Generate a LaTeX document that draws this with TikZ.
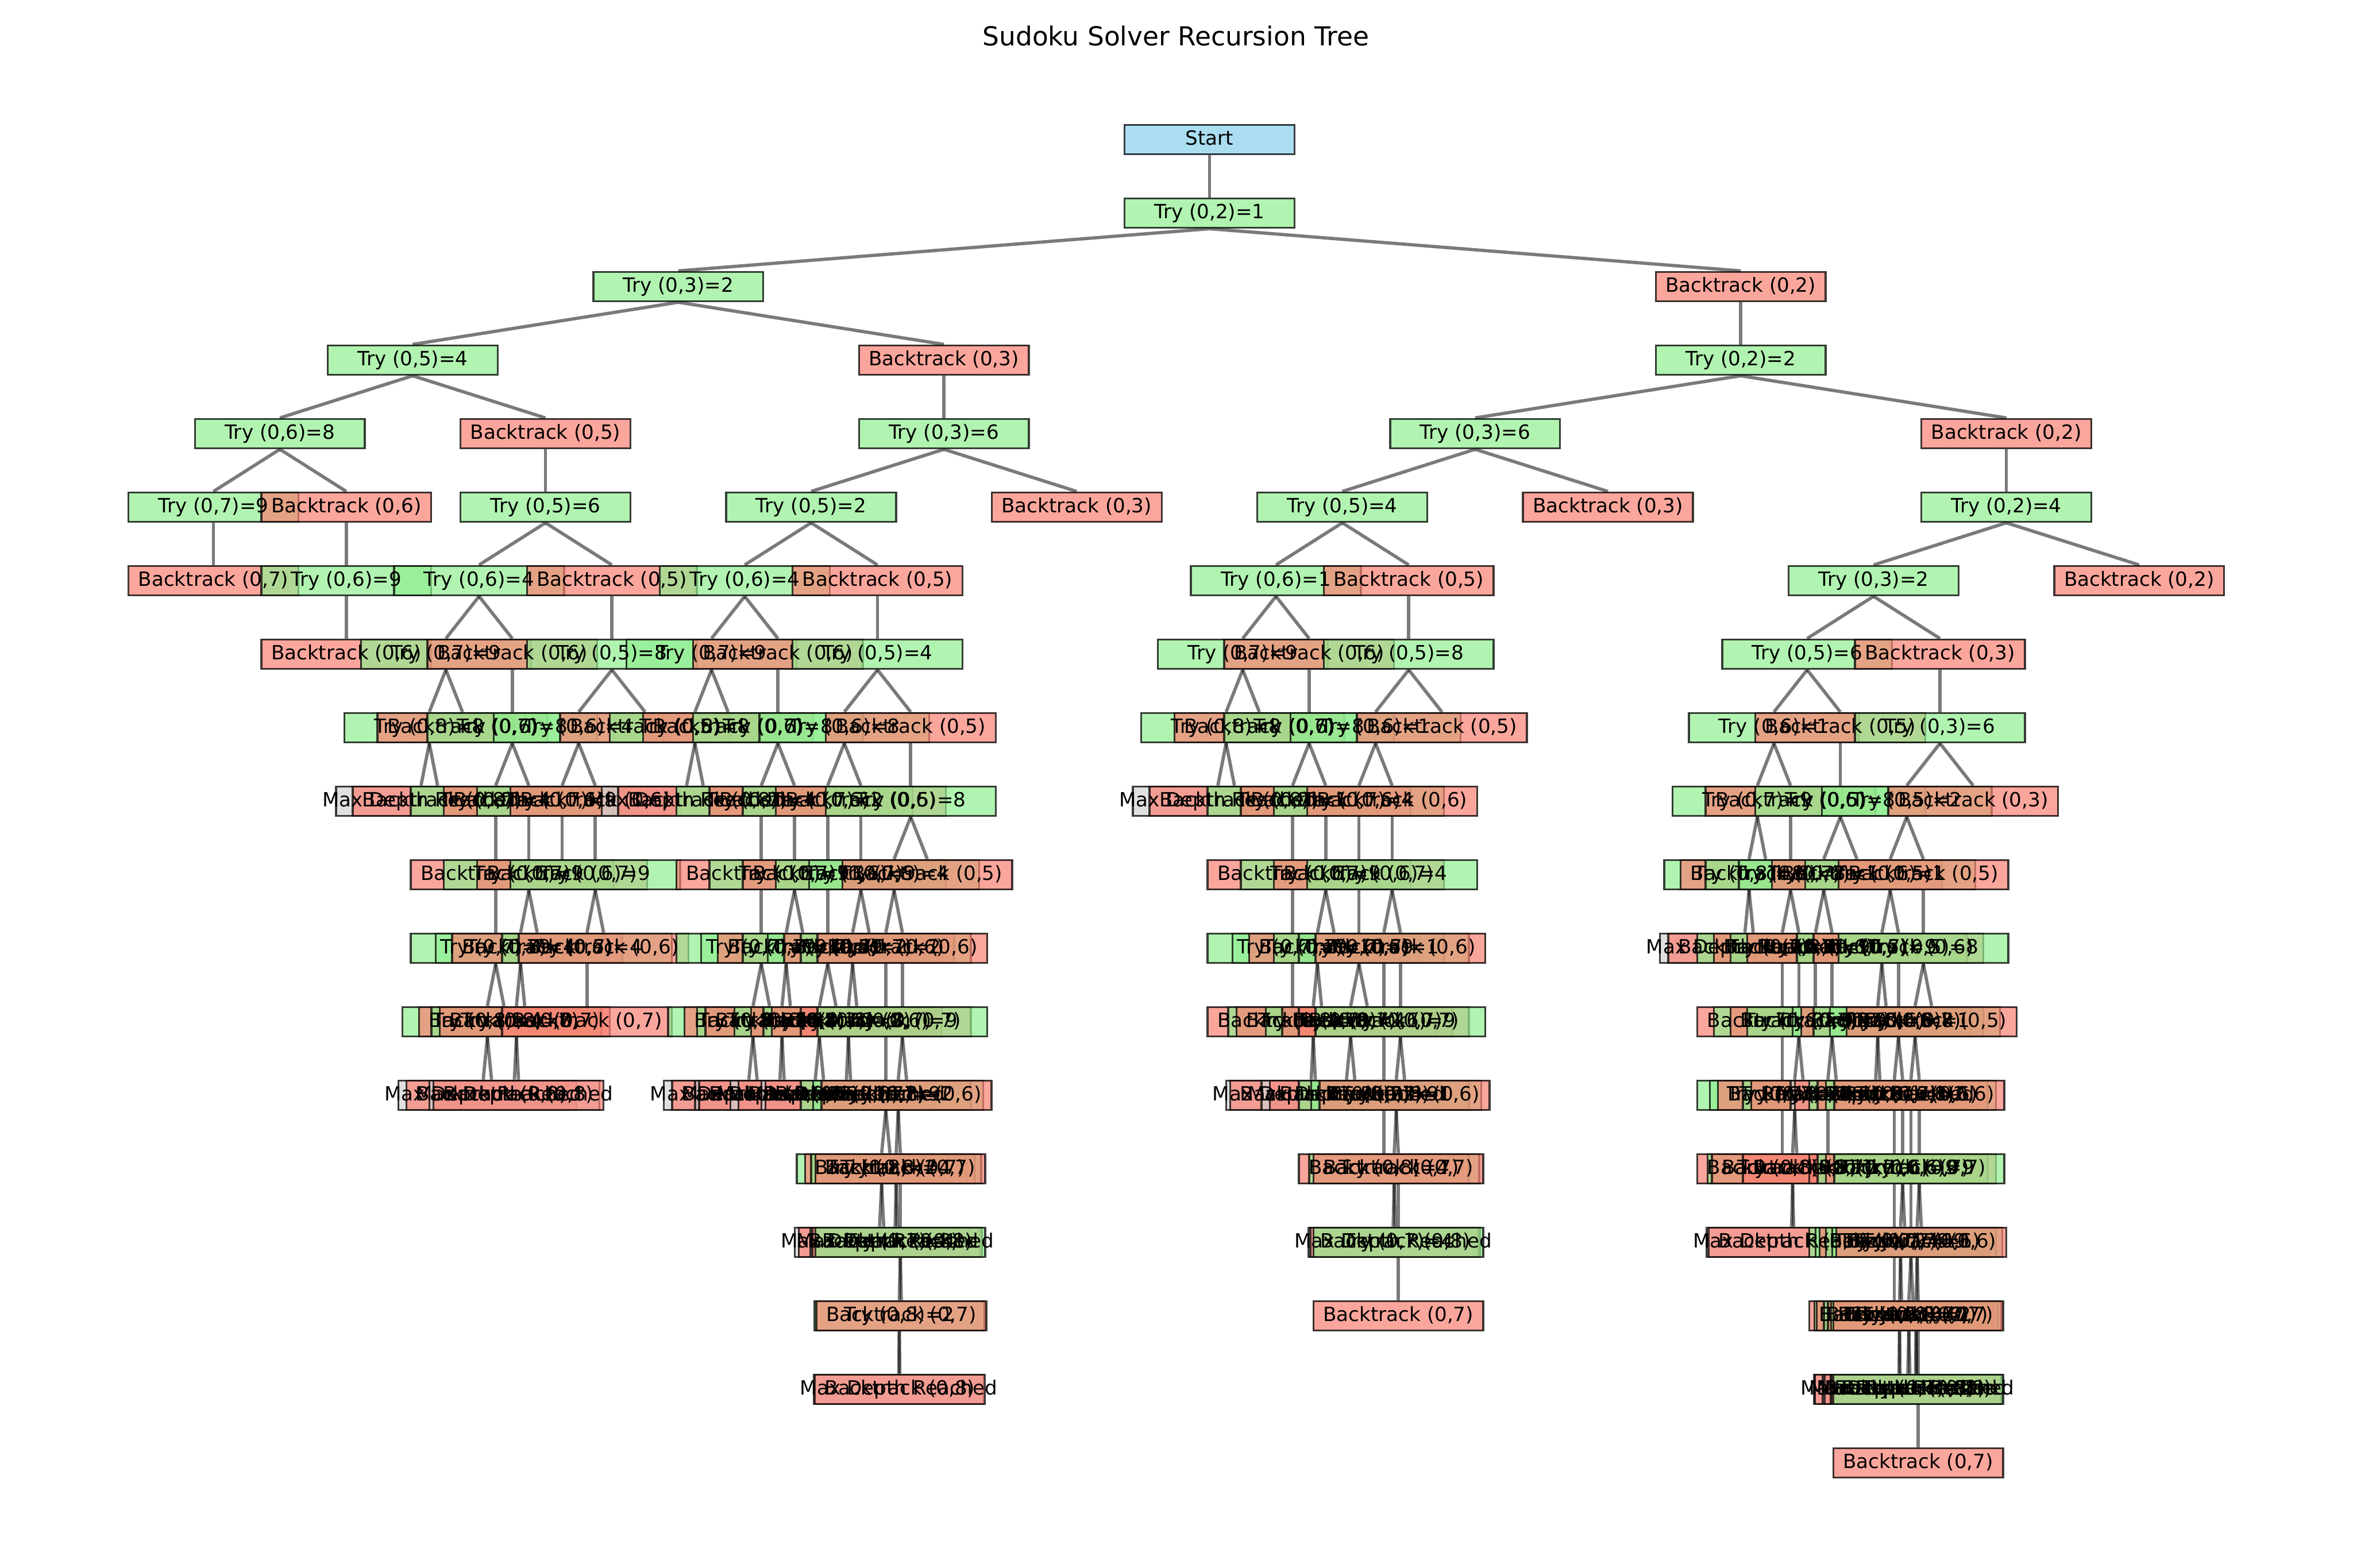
\documentclass[tikz,border=0pt]{standalone}
\usepackage{fontspec}
\setmainfont{DejaVu Sans}
\usetikzlibrary{calc}
\pgfdeclarelayer{bg}
\pgfsetlayers{bg,main}
\definecolor{lgreen}{RGB}{144,238,144}
\definecolor{salmon}{RGB}{250,128,114}
\definecolor{skyblue}{RGB}{135,206,235}
\definecolor{lgray}{RGB}{211,211,211}
\tikzset{
  box/.style={rectangle, inner sep=0pt, minimum width=78pt, minimum height=13.5pt,
    draw=black, draw opacity=0.75, line width=0.9pt, fill opacity=0.7},
  trybox/.style={box, fill=lgreen},
  backbox/.style={box, fill=salmon},
  startbox/.style={box, fill=skyblue},
  maxbox/.style={box, fill=lgray},
  lbl/.style={inner sep=0pt, font=\fontsize{9}{10}\selectfont, text height=6.6pt, text depth=1.7pt},
  link/.style={draw=black, draw opacity=0.52, line width=1.5pt},
}
\newcommand{\boxpass}[5]{\node[#4] (#1) at ($(#2)+(#3,49)$) {};}
\newcommand{\linkpass}[5]{\draw[link] (#2.south) -- (#1.north);}
\newcommand{\textpass}[5]{\node[lbl] at (#1) {#5};}
\newcommand{\addnode}[5]{}
\newcommand{\tryn}[5]{\addnode{#1}{#2}{#3}{trybox}{Try (0,#4)=#5}}
\newcommand{\backn}[4]{\addnode{#1}{#2}{#3}{backbox}{Backtrack (0,#4)}}
\newcommand{\maxn}[3]{\addnode{#1}{#2}{#3}{maxbox}{Max Depth Reached}}
\newcommand{\treelist}{%
  \tryn{sa}{s}{0}{2}{1}
  \tryn{saa}{sa}{-354}{3}{2}
  \tryn{saaa}{saa}{-177}{5}{4}
  \tryn{saaaa}{saaa}{-88.5}{6}{8}
  \tryn{saaaaa}{saaaa}{-44.25}{7}{9}
  \backn{saaaaaa}{saaaaa}{0}{7}
  \backn{saaaab}{saaaa}{44.25}{6}
  \tryn{saaaaba}{saaaab}{0}{6}{9}
  \backn{saaaabaa}{saaaaba}{0}{6}
  \backn{saaab}{saaa}{88.5}{5}
  \tryn{saaaba}{saaab}{0}{5}{6}
  \tryn{saaabaa}{saaaba}{-44.25}{6}{4}
  \tryn{saaabaaa}{saaabaa}{-22.12}{7}{9}
  \tryn{saaabaaaa}{saaabaaa}{-11.06}{8}{8}
  \maxn{saaabaaaaa}{saaabaaaa}{-5.53}
  \backn{saaabaaaab}{saaabaaaa}{5.53}{8}
  \backn{saaabaaab}{saaabaaa}{11.06}{7}
  \backn{saaabaab}{saaabaa}{22.12}{6}
  \tryn{saaabaaba}{saaabaab}{0}{6}{8}
  \tryn{saaabaabaa}{saaabaaba}{-11.06}{7}{4}
  \backn{saaabaabaaa}{saaabaabaa}{0}{7}
  \tryn{saaabaabaaaa}{saaabaabaaa}{0}{7}{9}
  \tryn{saaabaabaaaaa}{saaabaabaaaa}{-5.53}{8}{4}
  \maxn{saaabaabaaaaaa}{saaabaabaaaaa}{-2.77}
  \backn{saaabaabaaaaab}{saaabaabaaaaa}{2.77}{8}
  \backn{saaabaabaaaab}{saaabaabaaaa}{5.53}{7}
  \backn{saaabaabab}{saaabaaba}{11.06}{6}
  \tryn{saaabaababa}{saaabaabab}{0}{6}{9}
  \tryn{saaabaababaa}{saaabaababa}{-5.53}{7}{4}
  \tryn{saaabaababaaa}{saaabaababaa}{-2.77}{8}{8}
  \maxn{saaabaababaaaa}{saaabaababaaa}{-1.38}
  \backn{saaabaababaaab}{saaabaababaaa}{1.38}{8}
  \backn{saaabaababaab}{saaabaababaa}{2.77}{7}
  \backn{saaabaababab}{saaabaababa}{5.53}{6}
  \backn{saaabab}{saaaba}{44.25}{5}
  \tryn{saaababa}{saaabab}{0}{5}{8}
  \tryn{saaababaa}{saaababa}{-22.12}{6}{4}
  \tryn{saaababaaa}{saaababaa}{-11.06}{7}{9}
  \backn{saaababaaaa}{saaababaaa}{0}{7}
  \backn{saaababaab}{saaababaa}{11.06}{6}
  \tryn{saaababaaba}{saaababaab}{0}{6}{9}
  \tryn{saaababaabaa}{saaababaaba}{-5.53}{7}{4}
  \backn{saaababaabaaa}{saaababaabaa}{0}{7}
  \backn{saaababaabab}{saaababaaba}{5.53}{6}
  \backn{saaababab}{saaababa}{22.12}{5}
  \backn{saab}{saa}{177}{3}
  \tryn{saaba}{saab}{0}{3}{6}
  \tryn{saabaa}{saaba}{-88.5}{5}{2}
  \tryn{saabaaa}{saabaa}{-44.25}{6}{4}
  \tryn{saabaaaa}{saabaaa}{-22.12}{7}{9}
  \tryn{saabaaaaa}{saabaaaa}{-11.06}{8}{8}
  \maxn{saabaaaaaa}{saabaaaaa}{-5.53}
  \backn{saabaaaaab}{saabaaaaa}{5.53}{8}
  \backn{saabaaaab}{saabaaaa}{11.06}{7}
  \backn{saabaaab}{saabaaa}{22.12}{6}
  \tryn{saabaaaba}{saabaaab}{0}{6}{8}
  \tryn{saabaaabaa}{saabaaaba}{-11.06}{7}{4}
  \backn{saabaaabaaa}{saabaaabaa}{0}{7}
  \tryn{saabaaabaaaa}{saabaaabaaa}{0}{7}{9}
  \tryn{saabaaabaaaaa}{saabaaabaaaa}{-5.53}{8}{4}
  \maxn{saabaaabaaaaaa}{saabaaabaaaaa}{-2.77}
  \backn{saabaaabaaaaab}{saabaaabaaaaa}{2.77}{8}
  \backn{saabaaabaaaab}{saabaaabaaaa}{5.53}{7}
  \backn{saabaaabab}{saabaaaba}{11.06}{6}
  \tryn{saabaaababa}{saabaaabab}{0}{6}{9}
  \tryn{saabaaababaa}{saabaaababa}{-5.53}{7}{4}
  \tryn{saabaaababaaa}{saabaaababaa}{-2.77}{8}{8}
  \maxn{saabaaababaaaa}{saabaaababaaa}{-1.38}
  \backn{saabaaababaaab}{saabaaababaaa}{1.38}{8}
  \backn{saabaaababaab}{saabaaababaa}{2.77}{7}
  \backn{saabaaababab}{saabaaababa}{5.53}{6}
  \backn{saabaab}{saabaa}{44.25}{5}
  \tryn{saabaaba}{saabaab}{0}{5}{4}
  \tryn{saabaabaa}{saabaaba}{-22.12}{6}{8}
  \tryn{saabaabaaa}{saabaabaa}{-11.06}{7}{2}
  \backn{saabaabaaaa}{saabaabaaa}{0}{7}
  \tryn{saabaabaaaaa}{saabaabaaaa}{0}{7}{9}
  \tryn{saabaabaaaaaa}{saabaabaaaaa}{-5.53}{8}{2}
  \maxn{saabaabaaaaaaa}{saabaabaaaaaa}{-2.77}
  \backn{saabaabaaaaaab}{saabaabaaaaaa}{2.77}{8}
  \backn{saabaabaaaaab}{saabaabaaaaa}{5.53}{7}
  \backn{saabaabaab}{saabaabaa}{11.06}{6}
  \tryn{saabaabaaba}{saabaabaab}{0}{6}{9}
  \tryn{saabaabaabaa}{saabaabaaba}{-5.53}{7}{2}
  \tryn{saabaabaabaaa}{saabaabaabaa}{-2.77}{8}{8}
  \maxn{saabaabaabaaaa}{saabaabaabaaa}{-1.38}
  \backn{saabaabaabaaab}{saabaabaabaaa}{1.38}{8}
  \backn{saabaabaabaab}{saabaabaabaa}{2.77}{7}
  \backn{saabaabaabab}{saabaabaaba}{5.53}{6}
  \backn{saabaabab}{saabaaba}{22.12}{5}
  \tryn{saabaababa}{saabaabab}{0}{5}{8}
  \tryn{saabaababaa}{saabaababa}{-11.06}{6}{4}
  \tryn{saabaababaaa}{saabaababaa}{-5.53}{7}{2}
  \backn{saabaababaaaa}{saabaababaaa}{0}{7}
  \tryn{saabaababaaaaa}{saabaababaaaa}{0}{7}{9}
  \tryn{saabaababaaaaaa}{saabaababaaaaa}{-2.77}{8}{2}
  \maxn{saabaababaaaaaaa}{saabaababaaaaaa}{-1.38}
  \backn{saabaababaaaaaab}{saabaababaaaaaa}{1.38}{8}
  \backn{saabaababaaaaab}{saabaababaaaaa}{2.77}{7}
  \backn{saabaababaab}{saabaababaa}{5.53}{6}
  \tryn{saabaababaaba}{saabaababaab}{0}{6}{9}
  \tryn{saabaababaabaa}{saabaababaaba}{-2.77}{7}{2}
  \tryn{saabaababaabaaa}{saabaababaabaa}{-1.38}{8}{4}
  \maxn{saabaababaabaaaa}{saabaababaabaaa}{-0.69}
  \backn{saabaababaabaaab}{saabaababaabaaa}{0.69}{8}
  \backn{saabaababaabaab}{saabaababaabaa}{1.38}{7}
  \tryn{saabaababaabaaba}{saabaababaabaab}{0}{7}{4}
  \tryn{saabaababaabaabaa}{saabaababaabaaba}{-0.69}{8}{2}
  \maxn{saabaababaabaabaaa}{saabaababaabaabaa}{-0.35}
  \backn{saabaababaabaabaab}{saabaababaabaabaa}{0.35}{8}
  \backn{saabaababaabaabab}{saabaababaabaaba}{0.69}{7}
  \backn{saabaababaabab}{saabaababaaba}{2.77}{6}
  \backn{saabaababab}{saabaababa}{11.06}{5}
  \backn{saabab}{saaba}{88.5}{3}
  \backn{sab}{sa}{354}{2}
  \tryn{saba}{sab}{0}{2}{2}
  \tryn{sabaa}{saba}{-177}{3}{6}
  \tryn{sabaaa}{sabaa}{-88.5}{5}{4}
  \tryn{sabaaaa}{sabaaa}{-44.25}{6}{1}
  \tryn{sabaaaaa}{sabaaaa}{-22.12}{7}{9}
  \tryn{sabaaaaaa}{sabaaaaa}{-11.06}{8}{8}
  \maxn{sabaaaaaaa}{sabaaaaaa}{-5.53}
  \backn{sabaaaaaab}{sabaaaaaa}{5.53}{8}
  \backn{sabaaaaab}{sabaaaaa}{11.06}{7}
  \backn{sabaaaab}{sabaaaa}{22.12}{6}
  \tryn{sabaaaaba}{sabaaaab}{0}{6}{8}
  \tryn{sabaaaabaa}{sabaaaaba}{-11.06}{7}{1}
  \backn{sabaaaabaaa}{sabaaaabaa}{0}{7}
  \tryn{sabaaaabaaaa}{sabaaaabaaa}{0}{7}{9}
  \backn{sabaaaabaaaaa}{sabaaaabaaaa}{0}{7}
  \backn{sabaaaabab}{sabaaaaba}{11.06}{6}
  \tryn{sabaaaababa}{sabaaaabab}{0}{6}{9}
  \tryn{sabaaaababaa}{sabaaaababa}{-5.53}{7}{1}
  \tryn{sabaaaababaaa}{sabaaaababaa}{-2.77}{8}{8}
  \maxn{sabaaaababaaaa}{sabaaaababaaa}{-1.38}
  \backn{sabaaaababaaab}{sabaaaababaaa}{1.38}{8}
  \backn{sabaaaababaab}{sabaaaababaa}{2.77}{7}
  \backn{sabaaaababab}{sabaaaababa}{5.53}{6}
  \backn{sabaaab}{sabaaa}{44.25}{5}
  \tryn{sabaaaba}{sabaaab}{0}{5}{8}
  \tryn{sabaaabaa}{sabaaaba}{-22.12}{6}{1}
  \tryn{sabaaabaaa}{sabaaabaa}{-11.06}{7}{4}
  \backn{sabaaabaaaa}{sabaaabaaa}{0}{7}
  \tryn{sabaaabaaaaa}{sabaaabaaaa}{0}{7}{9}
  \tryn{sabaaabaaaaaa}{sabaaabaaaaa}{-5.53}{8}{4}
  \maxn{sabaaabaaaaaaa}{sabaaabaaaaaa}{-2.77}
  \backn{sabaaabaaaaaab}{sabaaabaaaaaa}{2.77}{8}
  \backn{sabaaabaaaaab}{sabaaabaaaaa}{5.53}{7}
  \backn{sabaaabaab}{sabaaabaa}{11.06}{6}
  \tryn{sabaaabaaba}{sabaaabaab}{0}{6}{4}
  \tryn{sabaaabaabaa}{sabaaabaaba}{-5.53}{7}{1}
  \backn{sabaaabaabaaa}{sabaaabaabaa}{0}{7}
  \tryn{sabaaabaabaaaa}{sabaaabaabaaa}{0}{7}{9}
  \backn{sabaaabaabaaaaa}{sabaaabaabaaaa}{0}{7}
  \backn{sabaaabaabab}{sabaaabaaba}{5.53}{6}
  \tryn{sabaaabaababa}{sabaaabaabab}{0}{6}{9}
  \tryn{sabaaabaababaa}{sabaaabaababa}{-2.77}{7}{1}
  \tryn{sabaaabaababaaa}{sabaaabaababaa}{-1.38}{8}{4}
  \maxn{sabaaabaababaaaa}{sabaaabaababaaa}{-0.69}
  \backn{sabaaabaababaaab}{sabaaabaababaaa}{0.69}{8}
  \backn{sabaaabaababaab}{sabaaabaababaa}{1.38}{7}
  \tryn{sabaaabaababaaba}{sabaaabaababaab}{0}{7}{4}
  \backn{sabaaabaababaabaa}{sabaaabaababaaba}{0}{7}
  \backn{sabaaabaababab}{sabaaabaababa}{2.77}{6}
  \backn{sabaaabab}{sabaaaba}{22.12}{5}
  \backn{sabaab}{sabaa}{88.5}{3}
  \backn{sabab}{saba}{177}{2}
  \tryn{sababa}{sabab}{0}{2}{4}
  \tryn{sababaa}{sababa}{-88.5}{3}{2}
  \tryn{sababaaa}{sababaa}{-44.25}{5}{6}
  \tryn{sababaaaa}{sababaaa}{-22.12}{6}{1}
  \tryn{sababaaaaa}{sababaaaa}{-11.06}{7}{9}
  \tryn{sababaaaaaa}{sababaaaaa}{-5.53}{8}{8}
  \maxn{sababaaaaaaa}{sababaaaaaa}{-2.77}
  \backn{sababaaaaaab}{sababaaaaaa}{2.77}{8}
  \backn{sababaaaaab}{sababaaaaa}{5.53}{7}
  \backn{sababaaaab}{sababaaaa}{11.06}{6}
  \tryn{sababaaaaba}{sababaaaab}{0}{6}{8}
  \tryn{sababaaaabaa}{sababaaaaba}{-5.53}{7}{1}
  \backn{sababaaaabaaa}{sababaaaabaa}{0}{7}
  \tryn{sababaaaabaaaa}{sababaaaabaaa}{0}{7}{9}
  \backn{sababaaaabaaaaa}{sababaaaabaaaa}{0}{7}
  \backn{sababaaaabab}{sababaaaaba}{5.53}{6}
  \tryn{sababaaaababa}{sababaaaabab}{0}{6}{9}
  \tryn{sababaaaababaa}{sababaaaababa}{-2.77}{7}{1}
  \tryn{sababaaaababaaa}{sababaaaababaa}{-1.38}{8}{8}
  \maxn{sababaaaababaaaa}{sababaaaababaaa}{-0.69}
  \backn{sababaaaababaaab}{sababaaaababaaa}{0.69}{8}
  \backn{sababaaaababaab}{sababaaaababaa}{1.38}{7}
  \backn{sababaaaababab}{sababaaaababa}{2.77}{6}
  \backn{sababaaab}{sababaaa}{22.12}{5}
  \tryn{sababaaaba}{sababaaab}{0}{5}{8}
  \tryn{sababaaabaa}{sababaaaba}{-11.06}{6}{1}
  \tryn{sababaaabaaa}{sababaaabaa}{-5.53}{7}{9}
  \backn{sababaaabaaaa}{sababaaabaaa}{0}{7}
  \backn{sababaaabaab}{sababaaabaa}{5.53}{6}
  \tryn{sababaaabaaba}{sababaaabaab}{0}{6}{9}
  \tryn{sababaaabaabaa}{sababaaabaaba}{-2.77}{7}{1}
  \backn{sababaaabaabaaa}{sababaaabaabaa}{0}{7}
  \backn{sababaaabaabab}{sababaaabaaba}{2.77}{6}
  \backn{sababaaabab}{sababaaaba}{11.06}{5}
  \backn{sababaab}{sababaa}{44.25}{3}
  \tryn{sababaaba}{sababaab}{0}{3}{6}
  \tryn{sababaabaa}{sababaaba}{-22.12}{5}{2}
  \tryn{sababaabaaa}{sababaabaa}{-11.06}{6}{1}
  \tryn{sababaabaaaa}{sababaabaaa}{-5.53}{7}{9}
  \tryn{sababaabaaaaa}{sababaabaaaa}{-2.77}{8}{8}
  \maxn{sababaabaaaaaa}{sababaabaaaaa}{-1.38}
  \backn{sababaabaaaaab}{sababaabaaaaa}{1.38}{8}
  \backn{sababaabaaaab}{sababaabaaaa}{2.77}{7}
  \backn{sababaabaaab}{sababaabaaa}{5.53}{6}
  \tryn{sababaabaaaba}{sababaabaaab}{0}{6}{8}
  \tryn{sababaabaaabaa}{sababaabaaaba}{-2.77}{7}{1}
  \backn{sababaabaaabaaa}{sababaabaaabaa}{0}{7}
  \tryn{sababaabaaabaaaa}{sababaabaaabaaa}{0}{7}{9}
  \backn{sababaabaaabaaaaa}{sababaabaaabaaaa}{0}{7}
  \backn{sababaabaaabab}{sababaabaaaba}{2.77}{6}
  \tryn{sababaabaaababa}{sababaabaaabab}{0}{6}{9}
  \tryn{sababaabaaababaa}{sababaabaaababa}{-1.38}{7}{1}
  \tryn{sababaabaaababaaa}{sababaabaaababaa}{-0.69}{8}{8}
  \maxn{sababaabaaababaaaa}{sababaabaaababaaa}{-0.35}
  \backn{sababaabaaababaaab}{sababaabaaababaaa}{0.35}{8}
  \backn{sababaabaaababaab}{sababaabaaababaa}{0.69}{7}
  \backn{sababaabaaababab}{sababaabaaababa}{1.38}{6}
  \backn{sababaabaab}{sababaabaa}{11.06}{5}
  \tryn{sababaabaaba}{sababaabaab}{0}{5}{8}
  \tryn{sababaabaabaa}{sababaabaaba}{-5.53}{6}{1}
  \tryn{sababaabaabaaa}{sababaabaabaa}{-2.77}{7}{2}
  \backn{sababaabaabaaaa}{sababaabaabaaa}{0}{7}
  \tryn{sababaabaabaaaaa}{sababaabaabaaaa}{0}{7}{9}
  \tryn{sababaabaabaaaaaa}{sababaabaabaaaaa}{-1.38}{8}{2}
  \maxn{sababaabaabaaaaaaa}{sababaabaabaaaaaa}{-0.69}
  \backn{sababaabaabaaaaaab}{sababaabaabaaaaaa}{0.69}{8}
  \backn{sababaabaabaaaaab}{sababaabaabaaaaa}{1.38}{7}
  \backn{sababaabaabaab}{sababaabaabaa}{2.77}{6}
  \tryn{sababaabaabaaba}{sababaabaabaab}{0}{6}{9}
  \tryn{sababaabaabaabaa}{sababaabaabaaba}{-1.38}{7}{1}
  \tryn{sababaabaabaabaaa}{sababaabaabaabaa}{-0.69}{8}{2}
  \maxn{sababaabaabaabaaaa}{sababaabaabaabaaa}{-0.35}
  \backn{sababaabaabaabaaab}{sababaabaabaabaaa}{0.35}{8}
  \backn{sababaabaabaabaab}{sababaabaabaabaa}{0.69}{7}
  \tryn{sababaabaabaabaaba}{sababaabaabaabaab}{0}{7}{2}
  \backn{sababaabaabaabaabaa}{sababaabaabaabaaba}{0}{7}
  \backn{sababaabaabaabab}{sababaabaabaaba}{1.38}{6}
  \backn{sababaabaabab}{sababaabaaba}{5.53}{5}
  \backn{sababaabab}{sababaaba}{22.12}{3}
  \backn{sababab}{sababa}{88.5}{2}
}

\begin{document}
\begin{tikzpicture}[x=0.6888pt, y=-0.6888pt]
  \useasboundingbox (0,0) rectangle (1568,1045);
  \node[font=\fontsize{12}{14}\selectfont, anchor=base] (title) at (783.5,30.5) {Sudoku Solver Recursion Tree};
  \node[startbox] (s) at (806,93) {};
  \let\addnode\boxpass
  \treelist
  \begin{pgfonlayer}{bg}
    \let\addnode\linkpass
    \treelist
  \end{pgfonlayer}
  \node[lbl] at (s) {Start};
  \let\addnode\textpass
  \treelist
\end{tikzpicture}
\end{document}
